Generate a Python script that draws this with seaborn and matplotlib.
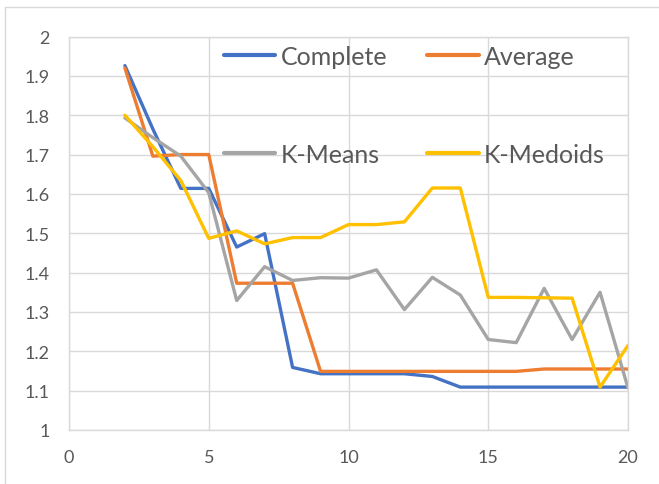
import numpy as np
import pandas as pd
import matplotlib
matplotlib.use("Agg")
import matplotlib.pyplot as plt
import seaborn as sns
from matplotlib.lines import Line2D

k = list(range(2, 21))
complete = [1.926, 1.765, 1.614, 1.614, 1.465, 1.499, 1.159, 1.143, 1.143, 1.143,
            1.143, 1.136, 1.109, 1.109, 1.109, 1.109, 1.109, 1.109, 1.109]
average = [1.920, 1.696, 1.700, 1.700, 1.373, 1.373, 1.373, 1.149, 1.149, 1.149,
           1.149, 1.149, 1.149, 1.149, 1.149, 1.155, 1.155, 1.155, 1.155]
kmeans = [1.793, 1.743, 1.696, 1.603, 1.329, 1.415, 1.380, 1.387, 1.386, 1.407,
          1.306, 1.388, 1.343, 1.230, 1.222, 1.360, 1.230, 1.350, 1.107]
kmedoids = [1.800, 1.720, 1.634, 1.487, 1.506, 1.473, 1.489, 1.489, 1.522, 1.522,
            1.529, 1.615, 1.615, 1.337, 1.337, 1.336, 1.335, 1.109, 1.215]

series_names = ["Complete", "Average", "K-Means", "K-Medoids"]
colors = ["#4472C4", "#ED7D31", "#A5A5A5", "#FFC000"]
xticks = [0, 5, 10, 15, 20]
yticks = [1, 1.1, 1.2, 1.3, 1.4, 1.5, 1.6, 1.7, 1.8, 1.9, 2]
yticklabels = ["1", "1.1", "1.2", "1.3", "1.4", "1.5", "1.6", "1.7", "1.8", "1.9", "2"]
xticklabels = ["0", "5", "10", "15", "20"]

df = pd.DataFrame({
    "k": k * 4,
    "value": complete + average + kmeans + kmedoids,
    "series": sum([[n] * len(k) for n in series_names], []),
})

sns.set_theme(style="white")
plt.rcParams["font.family"] = ["Lato", "DejaVu Sans"]

fig = plt.figure(figsize=(6.59, 4.85), dpi=100)
ax = fig.add_axes([69 / 659, 1 - 431 / 485, (628 - 69) / 659, (431 - 37.5) / 485])

sns.lineplot(data=df, x="k", y="value", hue="series", hue_order=series_names,
             palette=colors, linewidth=2.4, ax=ax, legend=False, sort=False)

ax.set_xlim(0, 20)
ax.set_ylim(1, 2)
ax.set_xticks(xticks)
ax.set_xticklabels(xticklabels)
ax.set_yticks(yticks)
ax.set_yticklabels(yticklabels)
ax.set_xlabel("")
ax.set_ylabel("")
ax.grid(True, color="#D9D9D9", linewidth=1)
ax.set_axisbelow(True)
for s in ax.spines.values():
    s.set_color("#D9D9D9")
    s.set_linewidth(1)
ax.tick_params(axis="both", length=0, colors="#595959", labelsize=13)
ax.tick_params(axis="y", pad=14)
ax.tick_params(axis="x", pad=14)

# legend laid out row-wise: matplotlib fills columns first, so reorder
order = [0, 2, 1, 3]
handles = [Line2D([0], [0], color=colors[i], linewidth=3) for i in order]
labels = [series_names[i] for i in order]
leg = ax.legend(handles, labels, ncol=2, loc="upper left",
                bbox_to_anchor=(224 / 659, 1 - 46 / 485), bbox_transform=fig.transFigure,
                frameon=False, fontsize=18, handlelength=2.05, handletextpad=0.22,
                columnspacing=1.6, labelspacing=3.0, borderpad=0, borderaxespad=0)
for t in leg.get_texts():
    t.set_color("#595959")

# outer chart border (partially visible)
fig.add_artist(Line2D([5 / 659, 5 / 659], [0, 1 - 8 / 485], transform=fig.transFigure,
                      color="#D9D9D9", linewidth=1))
fig.add_artist(Line2D([5 / 659, 1], [1 - 8 / 485, 1 - 8 / 485], transform=fig.transFigure,
                      color="#D9D9D9", linewidth=1))

fig.savefig("out.png", dpi=100)
